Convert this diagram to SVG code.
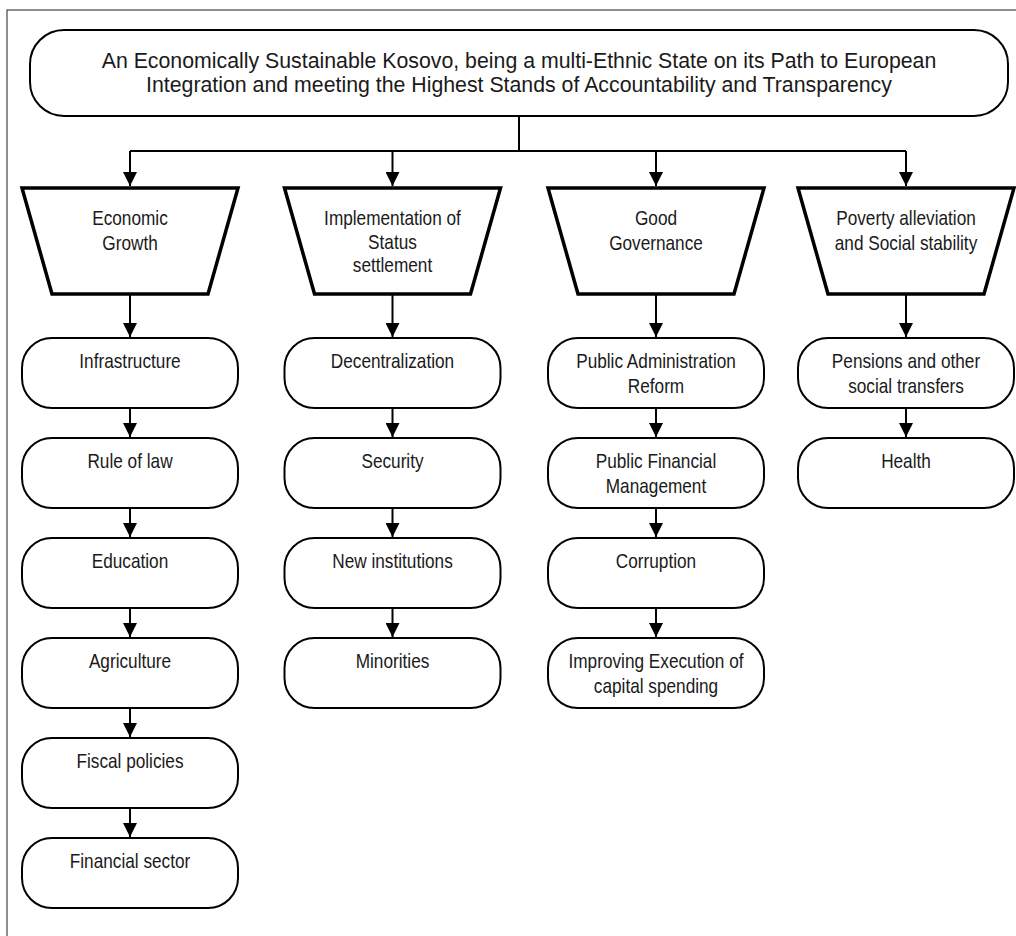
<svg xmlns="http://www.w3.org/2000/svg" width="1016" height="936" viewBox="0 0 1016 936">
<style>
.frame{fill:#fff;stroke:#444;stroke-width:1.2}
.goal{fill:#fff;stroke:#000;stroke-width:2}
.trap{fill:#fff;stroke:#000;stroke-width:3.5;stroke-linejoin:miter}
.box{fill:#fff;stroke:#000;stroke-width:2}
.t{font-family:"Liberation Sans",Arial,sans-serif;font-size:21px;fill:#1a1a1a;text-anchor:middle}
.tg{font-family:"Liberation Sans",Arial,sans-serif;font-size:21.3px;fill:#1a1a1a;text-anchor:middle}
.c{fill:none;stroke:#000;stroke-width:2}
</style>
<defs>
<marker id="ah" markerUnits="userSpaceOnUse" markerWidth="14" markerHeight="14" viewBox="0 0 14 14" refX="14" refY="7" orient="auto">
<path d="M0,0 L14,7 L0,14 Z" fill="#000"/>
</marker>
</defs>
<rect class="frame" x="7" y="10" width="1020" height="940"/>
<g id="connectors">
<path class="c" d="M519,116 V151 M130,151 H906"/>
<line class="c" x1="130" y1="151" x2="130" y2="186" marker-end="url(#ah)"/>
<line class="c" x1="392.5" y1="151" x2="392.5" y2="186" marker-end="url(#ah)"/>
<line class="c" x1="656" y1="151" x2="656" y2="186" marker-end="url(#ah)"/>
<line class="c" x1="906" y1="151" x2="906" y2="186" marker-end="url(#ah)"/>
<line class="c" x1="130" y1="294" x2="130" y2="337" marker-end="url(#ah)"/>
<line class="c" x1="392.5" y1="294" x2="392.5" y2="337" marker-end="url(#ah)"/>
<line class="c" x1="656" y1="294" x2="656" y2="337" marker-end="url(#ah)"/>
<line class="c" x1="906" y1="294" x2="906" y2="337" marker-end="url(#ah)"/>
<line class="c" x1="130" y1="408" x2="130" y2="437" marker-end="url(#ah)"/>
<line class="c" x1="130" y1="508" x2="130" y2="537" marker-end="url(#ah)"/>
<line class="c" x1="130" y1="608" x2="130" y2="637" marker-end="url(#ah)"/>
<line class="c" x1="130" y1="708" x2="130" y2="737" marker-end="url(#ah)"/>
<line class="c" x1="130" y1="808" x2="130" y2="837" marker-end="url(#ah)"/>
<line class="c" x1="392.5" y1="408" x2="392.5" y2="437" marker-end="url(#ah)"/>
<line class="c" x1="392.5" y1="508" x2="392.5" y2="537" marker-end="url(#ah)"/>
<line class="c" x1="392.5" y1="608" x2="392.5" y2="637" marker-end="url(#ah)"/>
<line class="c" x1="656" y1="408" x2="656" y2="437" marker-end="url(#ah)"/>
<line class="c" x1="656" y1="508" x2="656" y2="537" marker-end="url(#ah)"/>
<line class="c" x1="656" y1="608" x2="656" y2="637" marker-end="url(#ah)"/>
<line class="c" x1="906" y1="408" x2="906" y2="437" marker-end="url(#ah)"/>
</g>
<g id="goal">
<rect class="goal" x="30" y="30" width="978" height="86" rx="34" ry="34"/>
<text class="tg" x="519" y="68">An Economically Sustainable Kosovo, being a multi-Ethnic State on its Path to European</text>
<text class="tg" x="519" y="92">Integration and meeting the Highest Stands of Accountability and Transparency</text>
</g>
<g id="p1">
<polygon class="trap" points="22,188 238,188 208,294 52,294"/>
<g transform="translate(130,0) scale(0.82,1)"><text class="t" x="0" y="225">Economic</text><text class="t" x="0" y="250">Growth</text></g>
</g>
<g id="p2">
<polygon class="trap" points="284.5,188 500.5,188 470.5,294 314.5,294"/>
<g transform="translate(392.5,0) scale(0.82,1)"><text class="t" x="0" y="225">Implementation of</text><text class="t" x="0" y="249">Status</text><text class="t" x="0" y="272">settlement</text></g>
</g>
<g id="p3">
<polygon class="trap" points="548,188 764,188 734,294 578,294"/>
<g transform="translate(656,0) scale(0.82,1)"><text class="t" x="0" y="225">Good</text><text class="t" x="0" y="250">Governance</text></g>
</g>
<g id="p4">
<polygon class="trap" points="798,188 1014,188 984,294 828,294"/>
<g transform="translate(906,0) scale(0.82,1)"><text class="t" x="0" y="225">Poverty alleviation</text><text class="t" x="0" y="250">and Social stability</text></g>
</g>
<g id="b11"><rect class="box" x="22" y="338" width="216" height="70" rx="30"/><g transform="translate(130,0) scale(0.82,1)"><text class="t" x="0" y="368">Infrastructure</text></g></g>
<g id="b12"><rect class="box" x="22" y="438" width="216" height="70" rx="30"/><g transform="translate(130,0) scale(0.82,1)"><text class="t" x="0" y="468">Rule of law</text></g></g>
<g id="b13"><rect class="box" x="22" y="538" width="216" height="70" rx="30"/><g transform="translate(130,0) scale(0.82,1)"><text class="t" x="0" y="568">Education</text></g></g>
<g id="b14"><rect class="box" x="22" y="638" width="216" height="70" rx="30"/><g transform="translate(130,0) scale(0.82,1)"><text class="t" x="0" y="668">Agriculture</text></g></g>
<g id="b15"><rect class="box" x="22" y="738" width="216" height="70" rx="30"/><g transform="translate(130,0) scale(0.82,1)"><text class="t" x="0" y="768">Fiscal policies</text></g></g>
<g id="b16"><rect class="box" x="22" y="838" width="216" height="70" rx="30"/><g transform="translate(130,0) scale(0.82,1)"><text class="t" x="0" y="868">Financial sector</text></g></g>
<g id="b21"><rect class="box" x="284.5" y="338" width="216" height="70" rx="30"/><g transform="translate(392.5,0) scale(0.82,1)"><text class="t" x="0" y="368">Decentralization</text></g></g>
<g id="b22"><rect class="box" x="284.5" y="438" width="216" height="70" rx="30"/><g transform="translate(392.5,0) scale(0.82,1)"><text class="t" x="0" y="468">Security</text></g></g>
<g id="b23"><rect class="box" x="284.5" y="538" width="216" height="70" rx="30"/><g transform="translate(392.5,0) scale(0.82,1)"><text class="t" x="0" y="568">New institutions</text></g></g>
<g id="b24"><rect class="box" x="284.5" y="638" width="216" height="70" rx="30"/><g transform="translate(392.5,0) scale(0.82,1)"><text class="t" x="0" y="668">Minorities</text></g></g>
<g id="b31"><rect class="box" x="548" y="338" width="216" height="70" rx="30"/><g transform="translate(656,0) scale(0.82,1)"><text class="t" x="0" y="368">Public Administration</text><text class="t" x="0" y="393">Reform</text></g></g>
<g id="b32"><rect class="box" x="548" y="438" width="216" height="70" rx="30"/><g transform="translate(656,0) scale(0.82,1)"><text class="t" x="0" y="468">Public Financial</text><text class="t" x="0" y="493">Management</text></g></g>
<g id="b33"><rect class="box" x="548" y="538" width="216" height="70" rx="30"/><g transform="translate(656,0) scale(0.82,1)"><text class="t" x="0" y="568">Corruption</text></g></g>
<g id="b34"><rect class="box" x="548" y="638" width="216" height="70" rx="30"/><g transform="translate(656,0) scale(0.82,1)"><text class="t" x="0" y="668">Improving Execution of</text><text class="t" x="0" y="693">capital spending</text></g></g>
<g id="b41"><rect class="box" x="798" y="338" width="216" height="70" rx="30"/><g transform="translate(906,0) scale(0.82,1)"><text class="t" x="0" y="368">Pensions and other</text><text class="t" x="0" y="393">social transfers</text></g></g>
<g id="b42"><rect class="box" x="798" y="438" width="216" height="70" rx="30"/><g transform="translate(906,0) scale(0.82,1)"><text class="t" x="0" y="468">Health</text></g></g>
</svg>
